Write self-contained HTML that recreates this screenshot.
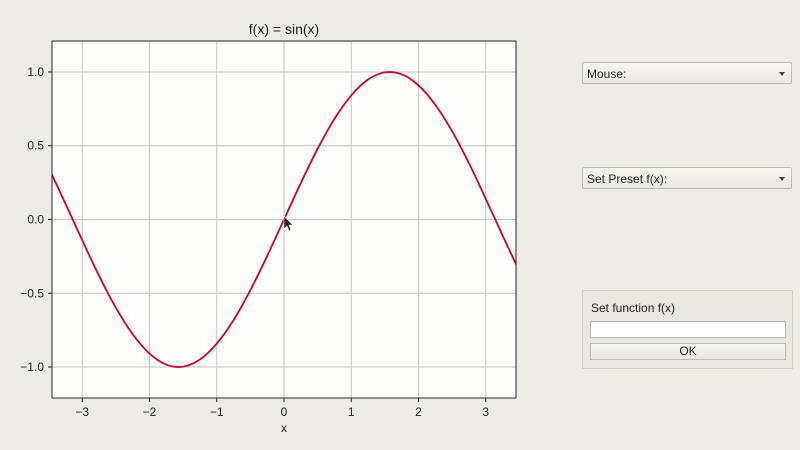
<!DOCTYPE html>
<html><head><meta charset="utf-8">
<style>
html,body{margin:0;padding:0;width:800px;height:450px;overflow:hidden;background:#edebe6;font-family:"Liberation Sans","DejaVu Sans",sans-serif;}
.combo{position:absolute;left:582px;width:210px;height:22px;border:1px solid #bdbab3;border-radius:2px;background:linear-gradient(#f6f5f2,#ebe9e4);font-size:12px;line-height:22px;padding-left:4px;box-sizing:border-box;color:#222;}
.combo .arr{position:absolute;right:6px;top:9px;width:0;height:0;border-left:3px solid transparent;border-right:3px solid transparent;border-top:4px solid #444;}
.group{position:absolute;left:582px;top:290px;width:211px;height:79px;border:1px solid #d3d0ca;box-sizing:border-box;background:#e9e7e2;}
</style></head><body>
<svg width="800" height="450" style="position:absolute;left:0;top:0">
<g id="chart"></g>
</svg>
<div class="combo" style="top:62px">Mouse:<span class="arr"></span></div>
<div class="combo" style="top:167px">Set Preset f(x):<span class="arr"></span></div>
<div class="group">
  <div style="position:absolute;left:8px;top:10px;font-size:12px;color:#222">Set function f(x)</div>
  <div style="position:absolute;left:7px;top:30px;width:196px;height:17px;background:#fff;border:1px solid #bdbab3;box-sizing:border-box"></div>
  <div style="position:absolute;left:7px;top:52px;width:196px;height:17px;background:linear-gradient(#f6f5f2,#e8e6e1);border:1px solid #bdbab3;box-sizing:border-box;font-size:12px;text-align:center;line-height:15px;color:#222">OK</div>
</div>
<script>
const xTicks=[-3,-2,-1,0,1,2,3];
const xTickLabels=["\u22123","\u22122","\u22121","0","1","2","3"];
const yTicks=[-1,-0.5,0,0.5,1];
const yTickLabels=["\u22121.0","\u22120.5","0.0","0.5","1.0"];
const xs=[-3.5,-3.25,-3,-2.75,-2.5,-2.25,-2,-1.75,-1.5,-1.25,-1,-0.75,-0.5,-0.25,0,0.25,0.5,0.75,1,1.25,1.5,1.75,2,2.25,2.5,2.75,3,3.25,3.5];
const ys=[0.351,0.108,-0.141,-0.382,-0.598,-0.778,-0.909,-0.984,-0.997,-0.949,-0.841,-0.682,-0.479,-0.247,0,0.247,0.479,0.682,0.841,0.949,0.997,0.984,0.909,0.778,0.598,0.382,0.141,-0.108,-0.351];
const xMin=-3.45,xMax=3.45,yMin=-1.21,yMax=1.21;
const L=52,R=516,T=41,B=398;
const sx=v=>L+(v-xMin)/(xMax-xMin)*(R-L);
const sy=v=>B-(v-yMin)/(yMax-yMin)*(B-T);
const NS="http://www.w3.org/2000/svg";
const g=document.getElementById('chart');
function mk(t,a,p){const e=document.createElementNS(NS,t);for(const k in a)e.setAttribute(k,a[k]);(p||g).appendChild(e);return e;}
const bg=mk('rect',{x:L,y:T,width:R-L,height:B-T,fill:'#fdfdfc'});


const clip=mk('clipPath',{id:'cp'});mk('rect',{x:L,y:T,width:R-L,height:B-T},clip);
xTicks.forEach((v,i)=>{
  const gl=mk('line',{x1:sx(v),x2:sx(v),y1:T,y2:B,stroke:'#c4c4c4','stroke-width':1});
  
  
  mk('line',{x1:sx(v),x2:sx(v),y1:B,y2:B+4,stroke:'#222'});
  const t=mk('text',{x:sx(v),y:B+18,'text-anchor':'middle','font-size':12,fill:'#222'});t.textContent=xTickLabels[i];
  
  
});
yTicks.forEach((v,i)=>{
  const gl=mk('line',{x1:L,x2:R,y1:sy(v),y2:sy(v),stroke:'#c4c4c4','stroke-width':1});
  
  
  mk('line',{x1:L-4,x2:L,y1:sy(v),y2:sy(v),stroke:'#222'});
  const t=mk('text',{x:L-8,y:sy(v)+4,'text-anchor':'end','font-size':12,fill:'#222'});t.textContent=yTickLabels[i];
  
  
});
const P=xs.map((x,i)=>[sx(x),sy(ys[i])]);
let d='M'+P[0][0].toFixed(2)+','+P[0][1].toFixed(2);
for(let i=0;i<P.length-1;i++){
  const p0=P[Math.max(0,i-1)],p1=P[i],p2=P[i+1],p3=P[Math.min(P.length-1,i+2)];
  const c1x=p1[0]+(p2[0]-p0[0])/6,c1y=p1[1]+(p2[1]-p0[1])/6;
  const c2x=p2[0]-(p3[0]-p1[0])/6,c2y=p2[1]-(p3[1]-p1[1])/6;
  d+=' C'+c1x.toFixed(2)+','+c1y.toFixed(2)+' '+c2x.toFixed(2)+','+c2y.toFixed(2)+' '+p2[0].toFixed(2)+','+p2[1].toFixed(2);
}
const line=mk('path',{d:d,fill:'none',stroke:'#d0002a','stroke-width':1.8,'clip-path':'url(#cp)','stroke-linejoin':'round'});


const fr=mk('rect',{x:L,y:T,width:R-L,height:B-T,fill:'none',stroke:'#222','stroke-width':1});


const title=mk('text',{x:(L+R)/2,y:34,'text-anchor':'middle','font-size':14,fill:'#222'});title.textContent='f(x) = sin(x)';


const xl=mk('text',{x:(L+R)/2,y:432,'text-anchor':'middle','font-size':12,fill:'#222'});xl.textContent='x';


const cur=mk('path',{d:'M284,216 l0,13 l3,-3 l2,5 l2,-1 l-2,-5 l4,0 z',fill:'#222',stroke:'#fff','stroke-width':0.6});


</script>
</body></html>
